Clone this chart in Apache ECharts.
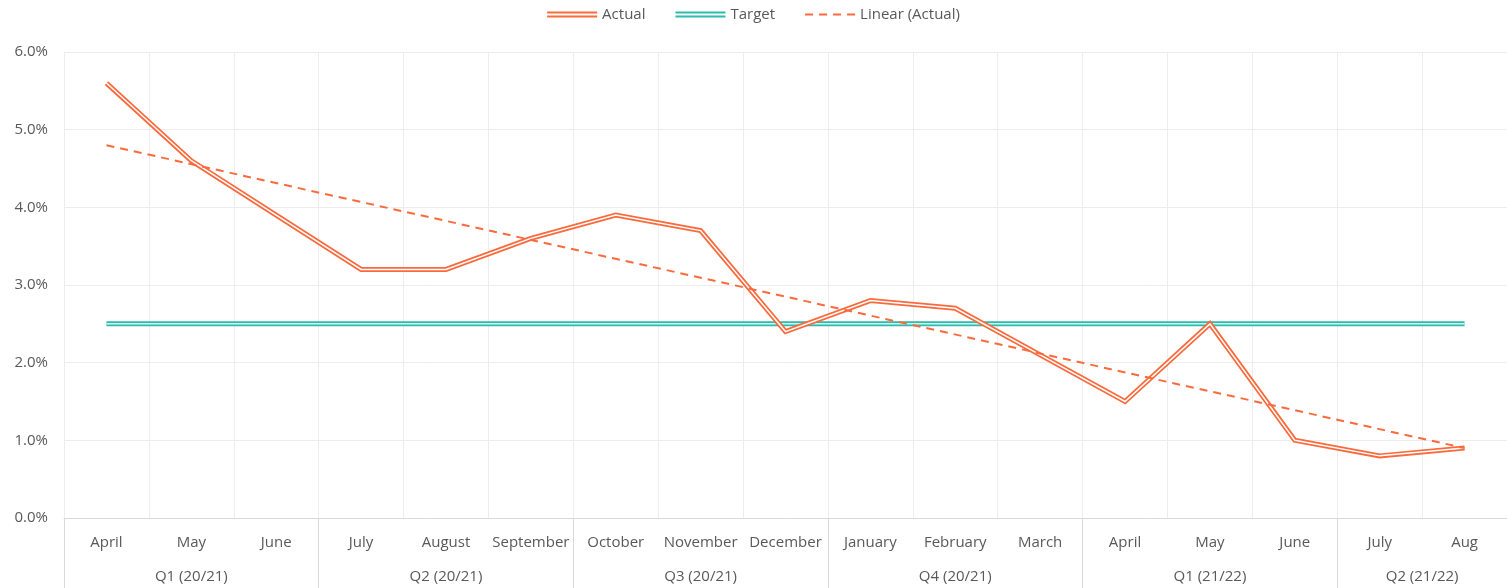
<!DOCTYPE html>
<html>
<head>
<meta charset="utf-8">
<script src="https://cdn.jsdelivr.net/npm/echarts@6/dist/echarts.min.js"></script>
<style>
  html, body { margin: 0; padding: 0; background: #fff; }
  #chart { width: 1507px; height: 588px; }
</style>
</head>
<body>
<div id="chart"></div>
<script>
// months on the first axis row
var months = ['April', 'May', 'June', 'July', 'August', 'September', 'October', 'November', 'December',
    'January', 'February', 'March', 'April', 'May', 'June', 'July', 'Aug'];
// quarter row: label, position (in month units) and group boundaries
var quarters = ['Q1 (20/21)', 'Q2 (20/21)', 'Q3 (20/21)', 'Q4 (20/21)', 'Q1 (21/22)', 'Q2 (21/22)'];
var quarterCenters = [1.5, 4.5, 7.5, 10.5, 13.5, 16];
var quarterBounds = [0, 3, 6, 9, 12, 15, 17];

// values in percent
var actual = [5.6, 4.6, 3.9, 3.2, 3.2, 3.6, 3.9, 3.7, 2.4, 2.8, 2.7, 2.1, 1.5, 2.5, 1.0, 0.8, 0.9];
var target = [2.5, 2.5, 2.5, 2.5, 2.5, 2.5, 2.5, 2.5, 2.5, 2.5, 2.5, 2.5, 2.5, 2.5, 2.5, 2.5, 2.5];
// trend line end points (Excel linear trend)
var trendStart = 4.8;
var trendEnd = 0.9;

var yTicks = { min: 0, max: 6, interval: 1 };

var ORANGE = '#FA6A3C';
var TEAL = '#2BBCAD';
var TEXT = '#595959';
var FONT = '"Open Sans", sans-serif';
var FS = 15;

var trend = months.map(function (m, i) {
    if (i === 0) return trendStart;
    if (i === months.length - 1) return trendEnd;
    return null;
});

var doubleIcon = 'path://M0,0H50V2H0Z M0,4H50V6H0Z';
var dashIcon = 'path://M0,2H8V4H0Z M14,2H22V4H14Z M28,2H36V4H28Z M42,2H50V4H42Z';

var chart = echarts.init(document.getElementById('chart'));

var option = {
    animation: false,
    textStyle: { fontFamily: FONT },
    legend: {
        top: 2,
        left: 'center',
        itemWidth: 50,
        itemHeight: 6,
        itemGap: 30,
        textStyle: { color: TEXT, fontSize: FS, fontFamily: FONT },
        data: [
            { name: 'Actual', icon: doubleIcon },
            { name: 'Target', icon: doubleIcon },
            { name: 'Linear (Actual)', icon: dashIcon }
        ]
    },
    grid: { left: 64, right: 0, top: 52, bottom: 70 },
    xAxis: [
        {
            type: 'category',
            data: months,
            boundaryGap: true,
            axisLine: { lineStyle: { color: '#d9d9d9' } },
            axisTick: { show: false },
            axisLabel: { color: TEXT, fontSize: FS, fontFamily: FONT, margin: 17, interval: 0 },
            splitLine: { show: true, interval: 0, lineStyle: { color: '#ededed' } }
        },
        {
            type: 'value',
            position: 'bottom',
            min: 0,
            max: 17,
            axisLine: { show: false },
            splitLine: { show: false },
            axisTick: {
                show: true,
                length: 70,
                customValues: quarterBounds,
                lineStyle: { color: '#d9d9d9' }
            },
            axisLabel: {
                color: TEXT,
                fontSize: FS,
                fontFamily: FONT,
                margin: 51,
                customValues: quarterCenters,
                formatter: function (v) {
                    var idx = quarterCenters.indexOf(v);
                    return idx >= 0 ? quarters[idx] : '';
                }
            }
        }
    ],
    yAxis: {
        type: 'value',
        min: yTicks.min,
        max: yTicks.max,
        interval: yTicks.interval,
        axisLine: { show: false },
        axisTick: { show: false },
        axisLabel: {
            color: TEXT,
            fontSize: FS,
            fontFamily: FONT,
            margin: 16,
            formatter: function (v) { return v.toFixed(1) + '%'; }
        },
        splitLine: { lineStyle: { color: '#ededed' } }
    },
    series: [
        {
            name: 'Target',
            type: 'line',
            data: target,
            color: TEAL,
            showSymbol: false,
            lineStyle: { color: TEAL, width: 5 },
            z: 2
        },
        {
            name: 'TargetInner',
            type: 'line',
            data: target,
            showSymbol: false,
            silent: true,
            lineStyle: { color: '#d6f3ef', width: 1.5 },
            z: 3
        },
        {
            name: 'Actual',
            type: 'line',
            data: actual,
            color: ORANGE,
            showSymbol: false,
            lineStyle: { color: ORANGE, width: 5, join: 'miter' },
            z: 4
        },
        {
            name: 'ActualInner',
            type: 'line',
            data: actual,
            showSymbol: false,
            silent: true,
            lineStyle: { color: '#ffffff', width: 1.5, join: 'miter' },
            z: 5
        },
        {
            name: 'Linear (Actual)',
            type: 'line',
            data: trend,
            connectNulls: true,
            color: ORANGE,
            showSymbol: false,
            lineStyle: { color: ORANGE, width: 2, type: [8, 6] },
            z: 6
        }
    ]
};

chart.setOption(option);
</script>
</body>
</html>
